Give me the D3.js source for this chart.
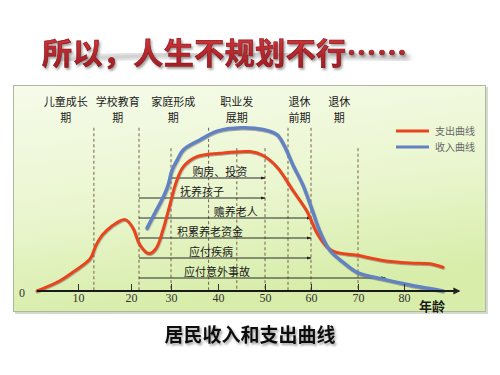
<!DOCTYPE html>
<html>
<head>
<meta charset="utf-8">
<script src="https://cdn.jsdelivr.net/npm/d3@7"></script>
<style>
  html, body { margin: 0; padding: 0; background: #fff; }
  svg { display: block; }
</style>
</head>
<body>
<svg id="chart" width="500" height="375"></svg>
<script>
// ---- data ----
const titleText = "所以，人生不规划不行……";
const captionText = "居民收入和支出曲线";
const axisLabel = "年龄";

const ageTicks = [10, 20, 30, 40, 50, 60, 70, 80];

// life stages: label lines and where each label sits (age)
const stageNames = [["儿童成长", "期"], ["学校教育", "期"], ["家庭形成", "期"], ["职业发", "展期"], ["退休", "前期"], ["退休", "期"]];
const stageLabelAge = [7, 17.5, 30.5, 44, 57.5, 66];
const stageBounds = [13, 22, 38, 55, 60];
const markerAges = [30, 44, 50, 70];

// expense curve (支出曲线)
const expenseAge = [0, 5.6, 9.3, 12.3, 13.4, 14.6, 16.3, 18.9, 20.5, 22.25, 24.5, 26.25, 28, 29.75, 31.1, 32.6, 35.5, 40.4, 46.8, 49.4, 52.6, 56.1, 59.1, 61.3, 63.4, 65.1, 69.8, 75.4, 81.3, 85.5, 88.3];
const expenseValue = [0, 6, 12, 19, 27, 33, 38, 42, 37, 27, 22, 25, 36, 51, 64, 73, 79, 81, 82, 80, 73, 59, 47, 34, 26, 23, 21, 18, 16.5, 16, 14];

// income curve (收入曲线)
const incomeAge = [24, 26, 28, 29.25, 30.2, 31.3, 32.6, 36.2, 39.8, 44.9, 49.6, 52.6, 54.1, 56.1, 58.3, 60.4, 61.9, 64, 66.8, 69.8, 75.4, 81.3, 88.3];
const incomeValue = [37, 46, 55, 62, 71, 77, 83, 89, 94, 96, 95, 92, 86, 74, 62, 46.5, 35, 24, 17, 11, 7, 3.5, 0];

// life events spanning ages
const eventNames = ["购房、投资", "抚养孩子", "赡养老人", "积累养老资金", "应付疾病", "应付意外事故"];
const eventStart = [30, 22, 22, 22, 22, 22];
const eventEnd = [50, 50, 60, 60, 60, 76];
const eventLabelAge = [40.4, 36.6, 43.8, 38.3, 38.5, 39.8];

const legendNames = ["支出曲线", "收入曲线"];
const seriesColors = ["#e8441e", "#6482c2"];

// ---- drawing ----
const svg = d3.select("#chart");
const defs = svg.append("defs");

const cjk = "'Noto Sans CJK SC', 'Noto Sans', sans-serif";

// panel background gradient
const bg = defs.append("linearGradient").attr("id", "panelBg").attr("x1", 0).attr("y1", 0).attr("x2", 0.25).attr("y2", 1);
bg.append("stop").attr("offset", "0%").attr("stop-color", "#f6fbea");
bg.append("stop").attr("offset", "55%").attr("stop-color", "#eaf6cf");
bg.append("stop").attr("offset", "100%").attr("stop-color", "#d7eda9");

const tg = defs.append("linearGradient").attr("id", "titleFill").attr("x1", 0).attr("y1", 0).attr("x2", 0).attr("y2", 1);
tg.append("stop").attr("offset", "0%").attr("stop-color", "#dc3a40");
tg.append("stop").attr("offset", "100%").attr("stop-color", "#981a20");

const sh = defs.append("filter").attr("id", "shadow").attr("x", "-10%").attr("y", "-30%").attr("width", "130%").attr("height", "170%");
sh.append("feDropShadow").attr("dx", 1.5).attr("dy", 2).attr("stdDeviation", 1.2).attr("flood-color", "#555").attr("flood-opacity", 0.55);

const blur = defs.append("filter").attr("id", "blur");
blur.append("feGaussianBlur").attr("stdDeviation", 2);

const lineShadow = defs.append("filter").attr("id", "lineShadow").attr("x", "-5%").attr("y", "-5%").attr("width", "110%").attr("height", "115%");
lineShadow.append("feDropShadow").attr("dx", 0.5).attr("dy", 1).attr("stdDeviation", 0.6).attr("flood-color", "#444").attr("flood-opacity", 0.45);

defs.append("marker").attr("id", "arrow").attr("viewBox", "0 0 10 10").attr("refX", 9).attr("refY", 5)
  .attr("markerWidth", 5).attr("markerHeight", 5).attr("orient", "auto")
  .append("path").attr("d", "M0,1.5L10,5L0,8.5Z").attr("fill", "#222");
defs.append("marker").attr("id", "axisArrow").attr("viewBox", "0 0 10 10").attr("refX", 8).attr("refY", 5)
  .attr("markerWidth", 3.2).attr("markerHeight", 3.2).attr("orient", "auto")
  .append("path").attr("d", "M0,0L10,5L0,10Z").attr("fill", "#222");

// title with a grey brush streak behind it
svg.append("path")
  .attr("d", "M60,60 Q200,50 410,58")
  .attr("stroke", "#9a9a9a").attr("stroke-width", 5).attr("fill", "none")
  .attr("opacity", 0.6).attr("filter", "url(#blur)");
svg.append("text")
  .attr("x", 42).attr("y", 64)
  .attr("font-family", cjk).attr("font-weight", 700).attr("font-size", 30)
  .attr("fill", "url(#titleFill)").attr("stroke", "#8a161b").attr("stroke-width", 0.7)
  .attr("filter", "url(#shadow)")
  .attr("textLength", 365)
  .text(titleText);

// panel
svg.append("rect").attr("x", 15).attr("y", 87).attr("width", 473).attr("height", 227).attr("fill", "#b9bfae").attr("opacity", 0.6);
svg.append("rect").attr("x", 13.5).attr("y", 85.5).attr("width", 472).attr("height", 226)
  .attr("fill", "url(#panelBg)").attr("stroke", "#aeb8a0").attr("stroke-width", 1);

// scales (tick spacing on the printed axis is uneven, so the age scale is piecewise)
const x = d3.scaleLinear()
  .domain([0, 10, 20, 30, 40, 50, 60, 70, 80, 90])
  .range([37, 78, 131, 171, 218, 265, 311, 358, 404, 451]);
const y = d3.scaleLinear().domain([0, 100]).range([291, 121]);
const row = d3.scalePoint().domain(eventNames).range([178, 278]);

// stage boundaries and markers
const dashed = svg.append("g").attr("stroke", "#76604f").attr("stroke-width", 1).attr("stroke-dasharray", "3,2.5");
dashed.selectAll("line.stage").data(stageBounds).join("line").attr("class", "stage")
  .attr("x1", d => x(d)).attr("x2", d => x(d)).attr("y1", y(96)).attr("y2", y(0));
dashed.selectAll("line.marker").data(markerAges).join("line").attr("class", "marker")
  .attr("x1", d => x(d)).attr("x2", d => x(d)).attr("y1", y(84)).attr("y2", y(0));

// stage labels, two lines each
const stages = svg.append("g").attr("font-family", cjk).attr("font-size", 11).attr("fill", "#1a1a1a").attr("text-anchor", "middle");
stages.selectAll("text").data(stageNames).join("text")
  .attr("x", (d, i) => x(stageLabelAge[i])).attr("y", 105.5)
  .selectAll("tspan").data(d => d).join("tspan")
  .attr("x", function () { return this.parentNode.getAttribute("x"); })
  .attr("dy", (d, j) => j === 0 ? 0 : 16)
  .text(d => d);

// life event spans
const ev = svg.append("g");
ev.selectAll("line").data(eventNames).join("line")
  .attr("x1", (d, i) => x(eventStart[i])).attr("x2", (d, i) => x(eventEnd[i]))
  .attr("y1", d => row(d)).attr("y2", d => row(d))
  .attr("stroke", "#2a2a2a").attr("stroke-width", 1).attr("marker-end", "url(#arrow)");
ev.selectAll("text").data(eventNames).join("text")
  .attr("x", (d, i) => x(eventLabelAge[i])).attr("y", d => row(d) - 2.5)
  .attr("text-anchor", "middle").attr("font-family", cjk).attr("font-size", 11).attr("fill", "#1a1a1a")
  .text(d => d);

// curves
const line = d3.line().x(d => x(d[0])).y(d => y(d[1])).curve(d3.curveCatmullRom.alpha(0.5));
const expense = d3.zip(expenseAge, expenseValue);
const income = d3.zip(incomeAge, incomeValue);
svg.append("path").attr("d", line(expense)).attr("fill", "none")
  .attr("stroke", seriesColors[0]).attr("stroke-width", 3).attr("stroke-linecap", "round")
  .attr("filter", "url(#lineShadow)");
svg.append("path").attr("d", line(income)).attr("fill", "none")
  .attr("stroke", seriesColors[1]).attr("stroke-width", 3.5).attr("stroke-linecap", "round")
  .attr("filter", "url(#lineShadow)");

// x axis
const axis = svg.append("g").attr("transform", `translate(0,${y(0)})`)
  .call(d3.axisBottom(x).tickValues(ageTicks).tickSize(-7).tickPadding(2).tickFormat(d3.format("d")));
axis.select(".domain").remove();
axis.selectAll(".tick line").attr("stroke", "#333").attr("stroke-width", 1);
axis.selectAll(".tick text").attr("font-family", "'Liberation Serif', serif").attr("font-size", 12).attr("fill", "#333");
svg.append("line").attr("x1", x(0)).attr("x2", 459).attr("y1", y(0)).attr("y2", y(0))
  .attr("stroke", "#1a1a1a").attr("stroke-width", 2.2).attr("marker-end", "url(#axisArrow)");
svg.append("text").attr("x", 22).attr("y", 297).attr("text-anchor", "middle")
  .attr("font-family", "'Liberation Serif', serif").attr("font-size", 12).attr("fill", "#333").text("0");
svg.append("text").attr("x", 432).attr("y", 311).attr("text-anchor", "middle")
  .attr("font-family", cjk).attr("font-weight", 700).attr("font-size", 13).attr("fill", "#1a1a1a").text(axisLabel);

// legend
const legend = svg.append("g");
legendNames.forEach((name, i) => {
  legend.append("line").attr("x1", 396).attr("x2", 429).attr("y1", 131 + i * 16).attr("y2", 131 + i * 16)
    .attr("stroke", seriesColors[i]).attr("stroke-width", 3);
  legend.append("text").attr("x", 435).attr("y", 135 + i * 16)
    .attr("font-family", cjk).attr("font-size", 10).attr("fill", "#666").text(name);
});

// caption
svg.append("text").attr("x", 250).attr("y", 342).attr("text-anchor", "middle")
  .attr("font-family", cjk).attr("font-weight", 700).attr("font-size", 19).attr("fill", "#111")
  .attr("filter", "url(#shadow)").text(captionText);
</script>
</body>
</html>
